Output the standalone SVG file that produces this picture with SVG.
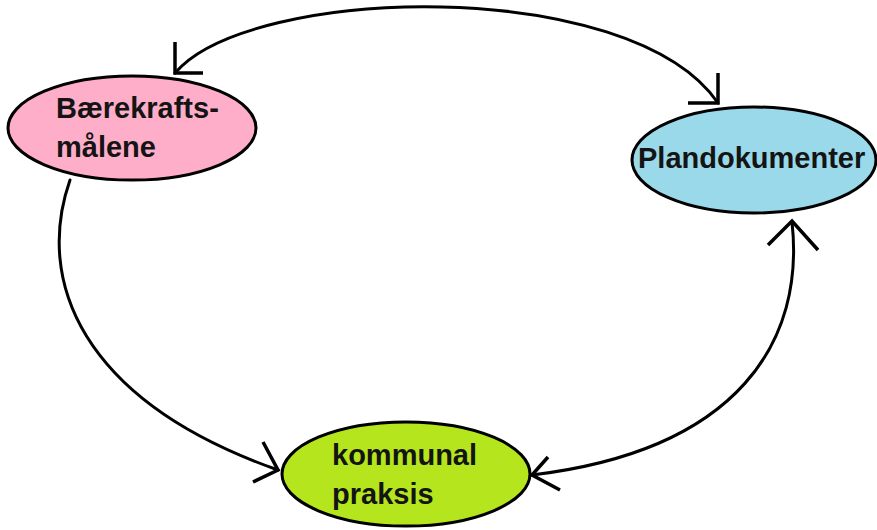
<svg xmlns="http://www.w3.org/2000/svg" width="877" height="530" viewBox="0 0 877 530">
<style>
.node{stroke:#000;stroke-width:3}
.lbl{font-family:"Liberation Sans",Arial,sans-serif;font-weight:bold;font-size:29px;fill:#141414}
.conn{fill:none;stroke:#000;stroke-width:3;stroke-linecap:round;stroke-linejoin:round}
.head{fill:none;stroke:#000;stroke-width:3.5;stroke-linecap:butt}
</style>
<rect width="877" height="530" fill="#fff"/>
<g id="connectors">
<path class="conn" d="M175,73 C250,-15 630,-25 718,103"/>
<polyline class="head" points="175,42 175,73 203,73"/>
<polyline class="head" points="718,73 718,103 688,103"/>
<path class="conn" d="M70,180 C35,280 80,400 278,470"/>
<polyline class="head" points="263,442 278,470 253,482"/>
<path class="conn" d="M792,222 C805,340 740,450 532,475"/>
<polyline class="head" points="768,245 792,221 818,250"/>
<polyline class="head" points="548,457 532,475 560,490"/>
</g>
<g id="node-baerekraft">
<ellipse class="node" cx="132" cy="128" rx="124" ry="52" fill="#FFAEC9"/>
<text class="lbl" x="56" y="118">Bærekrafts-</text>
<text class="lbl" x="56" y="157">målene</text>
</g>
<g id="node-plandokumenter">
<ellipse class="node" cx="754" cy="160" rx="122" ry="53" fill="#99D9EA"/>
<text class="lbl" x="638" y="168">Plandokumenter</text>
</g>
<g id="node-kommunal">
<ellipse class="node" cx="406" cy="474" rx="124" ry="52" fill="#B5E61D"/>
<text class="lbl" x="332" y="465">kommunal</text>
<text class="lbl" x="332" y="504">praksis</text>
</g>
</svg>
